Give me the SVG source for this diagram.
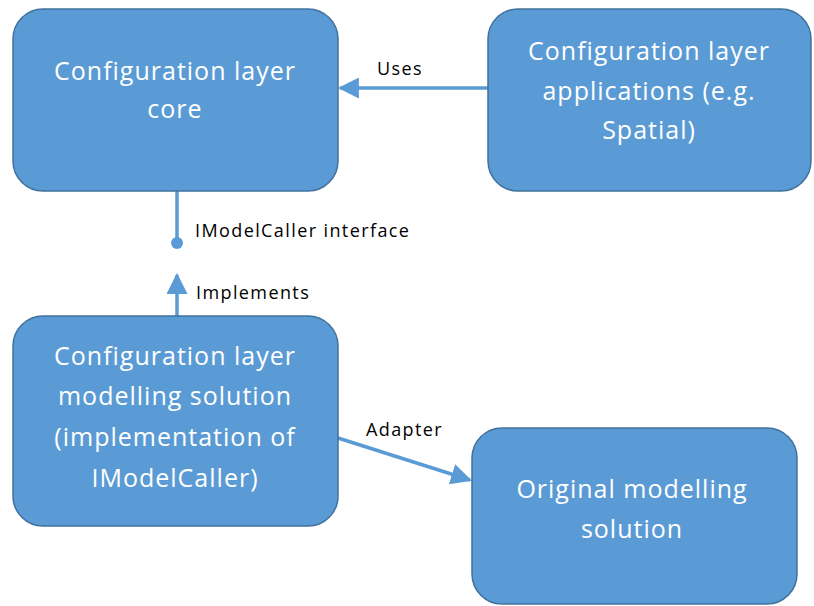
<svg xmlns="http://www.w3.org/2000/svg" width="814" height="606" viewBox="0 0 814 606">
<defs>
<style>
.box{fill:#5B9BD5;stroke:#41719C;stroke-width:1.5}
.nt{fill:#fff;font-family:"Open Sans","Liberation Sans",sans-serif;font-size:25px;letter-spacing:1px;text-anchor:middle}
.lb{fill:#000;font-family:"Open Sans","Liberation Sans",sans-serif;font-size:18px;letter-spacing:1.4px}
.cn{stroke:#5B9BD5;stroke-width:3.5;fill:none}
</style>
<marker id="ah" viewBox="0 0 10 10" refX="9" refY="5" markerWidth="6" markerHeight="6" markerUnits="strokeWidth" orient="auto">
<path d="M0,0 L10,5 L0,10 z" fill="#5B9BD5"/>
</marker>
</defs>
<rect width="814" height="606" fill="#fff"/>
<g id="connectors">
<line class="cn" x1="488" y1="88" x2="340" y2="88" marker-end="url(#ah)"/>
<line class="cn" x1="177" y1="191" x2="177" y2="243"/>
<circle cx="177" cy="243" r="6" fill="#5B9BD5"/>
<line class="cn" x1="177" y1="316" x2="177" y2="275" marker-end="url(#ah)"/>
<line class="cn" x1="338" y1="438" x2="470" y2="480" marker-end="url(#ah)"/>
<text class="lb" x="377" y="75">Uses</text>
<text class="lb" x="195" y="237">IModelCaller interface</text>
<text class="lb" x="196" y="299">Implements</text>
<text class="lb" x="366" y="436">Adapter</text>
</g>
<g id="core">
<rect class="box" x="13" y="9" width="325" height="182" rx="30"/>
<text class="nt" x="175" y="80">Configuration layer</text>
<text class="nt" x="175" y="118">core</text>
</g>
<g id="apps">
<rect class="box" x="488" y="9" width="323" height="182" rx="30"/>
<text class="nt" x="649" y="60">Configuration layer</text>
<text class="nt" x="649" y="100">applications (e.g.</text>
<text class="nt" x="649" y="139">Spatial)</text>
</g>
<g id="modelling">
<rect class="box" x="13" y="316" width="325" height="210" rx="30"/>
<text class="nt" x="175" y="365">Configuration layer</text>
<text class="nt" x="175" y="405">modelling solution</text>
<text class="nt" x="175" y="446">(implementation of</text>
<text class="nt" x="175" y="487">IModelCaller)</text>
</g>
<g id="original">
<rect class="box" x="472" y="428" width="325" height="176" rx="30"/>
<text class="nt" x="632" y="498">Original modelling</text>
<text class="nt" x="632" y="538">solution</text>
</g>
</svg>
